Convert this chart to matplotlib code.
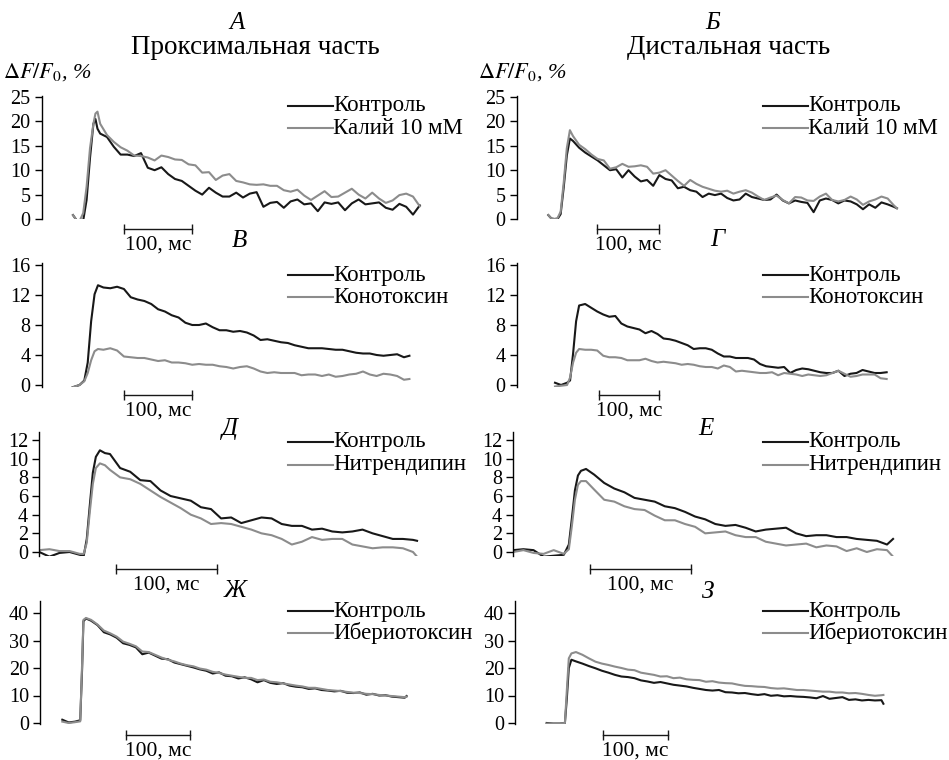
import matplotlib
matplotlib.use("Agg")
import matplotlib.pyplot as plt
from matplotlib.lines import Line2D

plt.rcParams["font.family"] = ["Liberation Serif", "DejaVu Serif"]
plt.rcParams["mathtext.fontset"] = "stix"

W, H = 949, 760
BLACK = "#181818"
GREY = "#8c8c8c"

# ---- traces: time in ms from the start of each record, dF/F0 in % ----
# А: proximal, control vs KCl 10 mM
t_a = [0, 5, 10, 15, 20, 25, 30, 33, 36, 40] + list(range(50, 511, 10))
ctrl_a = [0.8, -0.2, -0.5, -0.3, 3.9, 12.5, 19.5, 20.5, 18.5, 17.5,
          16.8, 14.8, 13.2, 13.2, 12.9, 13.5, 10.5, 10.0, 10.6, 9.2, 8.2, 7.8,
          6.8, 5.8, 5.0, 6.4, 5.4, 4.6, 4.6, 5.4, 4.4, 5.2, 5.5, 2.5, 3.3, 3.5,
          2.3, 3.6, 4.0, 3.0, 3.2, 1.6, 3.4, 3.1, 3.4, 1.8, 3.2, 4.0, 3.0, 3.2,
          3.4, 2.3, 1.9, 3.1, 2.5, 0.9, 2.8]
kcl_a = [0.8, -0.2, -0.3, 1.2, 6.6, 14.5, 19.5, 21.6, 22.0, 19.5,
         17.2, 15.8, 14.7, 14.0, 13.0, 12.9, 12.6, 12.0, 13.0, 12.7, 12.2, 12.1,
         11.2, 11.0, 9.5, 9.6, 8.0, 8.9, 9.2, 7.8, 7.5, 7.1, 7.0, 7.1, 6.8, 6.8,
         5.9, 5.6, 6.0, 4.8, 3.9, 4.8, 5.7, 4.5, 4.6, 5.4, 6.2, 5.0, 4.2, 5.4,
         4.2, 3.3, 3.8, 4.9, 5.2, 4.6, 2.6]

# Б: distal, control vs KCl 10 mM
t_b = [0, 5, 10, 15, 20, 25, 30, 35, 40] + list(range(50, 561, 10)) + [565]
ctrl_b = [0.8, 0.1, 0.0, 0.0, 1.0, 6.5, 13.0, 16.5, 16.0,
          14.6, 13.6, 12.8, 12.0, 11.0, 10.0, 10.2, 8.5, 10.0, 8.7, 7.7, 8.0,
          6.8, 9.0, 8.2, 7.9, 6.3, 6.6, 5.9, 5.6, 4.5, 5.2, 4.9, 5.2, 4.3, 3.8,
          4.0, 5.2, 4.5, 4.2, 3.9, 4.0, 5.0, 3.8, 3.2, 3.8, 3.5, 3.3, 1.4, 3.8,
          4.2, 3.9, 3.2, 3.8, 3.6, 3.0, 2.0, 3.0, 2.3, 3.4, 3.0, 2.5, 2.2]
kcl_b = [0.8, 0.1, 0.0, 0.2, 1.5, 7.5, 14.5, 18.2, 17.0,
         15.2, 14.3, 13.2, 12.3, 12.0, 10.3, 10.6, 11.3, 10.7, 10.8, 11.0, 10.7,
         9.3, 9.5, 10.0, 8.9, 7.8, 6.8, 8.0, 7.2, 6.6, 6.2, 5.8, 5.6, 5.8, 5.2,
         5.6, 5.9, 5.4, 4.6, 3.9, 4.4, 4.8, 3.9, 3.2, 4.5, 4.4, 3.8, 3.7, 4.6,
         5.2, 3.9, 3.6, 3.9, 4.6, 4.0, 2.9, 3.6, 4.0, 4.6, 4.2, 2.8, 2.2]

# В: proximal, control vs conotoxin
t_v = [0, 10, 17, 22, 27, 32, 37] + list(range(45, 486, 10)) + [493]
ctrl_v = [-0.3, 0.0, 0.6, 3.0, 8.5, 12.1, 13.3,
          13.0, 12.9, 13.1, 12.8, 11.7, 11.4, 11.2, 10.8, 10.1, 9.8, 9.3, 9.0,
          8.3, 8.0, 8.0, 8.2, 7.7, 7.3, 7.3, 7.1, 7.2, 7.0, 6.6, 6.0, 6.1, 5.9,
          5.7, 5.6, 5.3, 5.1, 4.9, 4.9, 4.9, 4.8, 4.7, 4.7, 4.5, 4.3, 4.2, 4.2,
          4.0, 3.9, 4.0, 4.1, 3.7, 3.9]
cono_v = [-0.3, 0.0, 0.5, 1.6, 3.3, 4.5, 4.8,
          4.7, 4.9, 4.6, 3.8, 3.7, 3.6, 3.6, 3.4, 3.2, 3.3, 3.0, 3.0, 2.9, 2.7,
          2.8, 2.7, 2.7, 2.5, 2.4, 2.2, 2.4, 2.5, 2.2, 1.8, 1.6, 1.7, 1.6, 1.6,
          1.6, 1.3, 1.4, 1.4, 1.2, 1.4, 1.1, 1.2, 1.4, 1.5, 1.8, 1.4, 1.2, 1.5,
          1.4, 1.2, 0.7, 0.8]

# Г: distal, control vs conotoxin
t_g = [0, 10, 20, 25, 30, 35, 40] + list(range(50, 551, 10))
ctrl_g = [0.3, 0.0, 0.3, 0.6, 4.2, 8.5, 10.6,
          10.8, 10.3, 9.8, 9.4, 9.1, 9.2, 8.2, 7.8, 7.6, 7.4, 6.9, 7.2, 6.8,
          6.2, 6.1, 5.9, 5.6, 5.3, 4.8, 4.9, 4.9, 4.7, 4.2, 3.8, 3.8, 3.6, 3.6,
          3.6, 3.4, 2.8, 2.5, 2.4, 2.3, 2.4, 1.6, 2.0, 2.2, 2.1, 1.9, 1.7, 1.6,
          1.6, 1.9, 1.2, 1.5, 1.6, 2.0, 1.8, 1.6, 1.6, 1.7]
cono_g = [-0.2, -0.1, 0.0, 1.0, 3.0, 4.3, 4.8,
          4.7, 4.7, 4.6, 3.9, 3.7, 3.7, 3.6, 3.3, 3.3, 3.3, 3.5, 3.2, 3.0, 3.1,
          3.0, 2.9, 2.7, 2.8, 2.7, 2.5, 2.4, 2.4, 2.2, 2.6, 2.4, 1.8, 1.9, 1.8,
          1.7, 1.6, 1.6, 1.7, 1.3, 1.6, 1.5, 1.4, 1.2, 1.4, 1.3, 1.2, 1.3, 1.6,
          1.9, 1.5, 1.1, 1.2, 1.4, 1.4, 1.4, 0.9, 0.8]

# Д: proximal, control vs nitrendipine
t_d = [0, 10, 20, 30, 40, 44, 47, 50, 53, 56, 60, 65, 70] + list(range(80, 371, 10)) + [374]
ctrl_d = [0.0, -0.5, -0.1, 0.0, -0.3, -0.4, 1.4, 5.0, 8.5, 10.2, 10.9, 10.6, 10.5,
          9.0, 8.6, 7.7, 7.6, 6.6, 6.0, 5.75, 5.5, 4.8, 4.6, 3.6, 3.7, 3.1, 3.4,
          3.7, 3.6, 3.0, 2.8, 2.8, 2.4, 2.5, 2.2, 2.1, 2.2, 2.4, 2.0, 1.7, 1.4,
          1.4, 1.3, 1.2]
nitr_d = [0.2, 0.3, 0.1, 0.1, -0.2, -0.2, 1.0, 4.3, 7.3, 9.0, 9.5, 9.3, 8.8,
          8.0, 7.8, 7.3, 6.6, 5.9, 5.3, 4.7, 4.0, 3.6, 3.0, 3.1, 3.0, 2.7, 2.4,
          2.0, 1.8, 1.4, 0.8, 1.1, 1.6, 1.3, 1.4, 1.4, 0.8, 0.6, 0.4, 0.5, 0.5,
          0.4, 0.0, -0.5]

# Е: distal, control vs nitrendipine
t_e = [0, 10, 20, 30, 40, 50, 55, 58, 61, 64, 67, 72] + list(range(80, 371, 10)) + [376]
ctrl_e = [0.2, 0.3, 0.2, -0.5, -0.4, -0.3, 0.8, 3.6, 6.6, 8.2, 8.7, 8.9,
          8.3, 7.4, 6.8, 6.4, 5.8, 5.6, 5.4, 4.9, 4.7, 4.3, 3.8, 3.5, 3.0, 2.8,
          2.9, 2.6, 2.2, 2.4, 2.5, 2.6, 2.0, 1.7, 1.8, 1.8, 1.6, 1.6, 1.4, 1.3,
          1.2, 0.8, 1.4]
nitr_e = [0.0, 0.2, -0.1, -0.2, 0.2, -0.2, 0.3, 2.8, 5.6, 7.2, 7.6, 7.6,
          6.7, 5.6, 5.4, 4.9, 4.6, 4.5, 3.9, 3.4, 3.4, 3.0, 2.7, 2.0, 2.1, 2.2,
          1.8, 1.6, 1.6, 1.1, 0.9, 0.7, 0.8, 0.9, 0.5, 0.7, 0.6, 0.1, 0.4, 0.0,
          0.3, 0.2, -0.5]

# Ж: proximal, control vs iberiotoxin
t_zh = [0, 10, 20, 28, 31, 33, 37] + list(range(45, 536, 10)) + [538]
ctrl_zh = [1.2, 0.2, 0.5, 1.0, 20.0, 37.0, 38.0,
           37.2, 35.6, 33.0, 32.2, 31.0, 29.0, 28.4, 27.5, 25.0, 25.6, 24.5,
           23.4, 23.2, 22.0, 21.4, 20.8, 20.2, 19.5, 19.0, 18.0, 18.4, 17.2,
           17.0, 16.2, 16.6, 15.9, 14.8, 15.6, 14.6, 14.2, 14.5, 13.6, 13.2,
           13.0, 12.4, 12.6, 12.0, 11.8, 11.5, 11.7, 11.0, 10.9, 11.1, 10.3,
           10.6, 10.0, 10.1, 9.6, 9.4, 9.2, 9.8]
ibtx_zh = [0.5, 0.0, 0.3, 0.6, 22.0, 37.5, 38.2,
           37.5, 35.8, 33.6, 32.6, 31.4, 29.6, 28.8, 27.9, 26.0, 25.8, 24.8,
           23.8, 23.0, 22.4, 21.6, 21.0, 20.6, 19.8, 19.4, 18.6, 18.2, 17.6,
           17.2, 16.8, 16.4, 16.4, 15.6, 15.8, 15.0, 14.8, 14.4, 14.0, 13.6,
           13.3, 12.8, 12.8, 12.4, 12.0, 11.8, 11.6, 11.3, 11.0, 10.9, 10.6,
           10.5, 10.2, 10.0, 9.8, 9.6, 9.4, 9.6]

# З: distal, control vs iberiotoxin
t_z = [0, 10, 20, 28, 31, 34, 38] + list(range(45, 516, 10)) + [518]
ctrl_z = [0.0, -0.2, -0.2, 0.0, 9.0, 20.0, 23.0,
          22.4, 21.6, 20.7, 19.9, 19.0, 18.3, 17.5, 16.9, 16.7, 16.3, 15.5,
          15.1, 14.6, 14.9, 14.4, 13.9, 13.6, 13.3, 12.8, 12.4, 12.0, 11.8,
          12.0, 11.2, 11.1, 10.8, 10.9, 10.5, 10.2, 10.5, 9.9, 10.1, 9.7, 9.8,
          9.6, 9.5, 9.3, 9.0, 9.8, 8.8, 9.1, 9.4, 8.4, 8.6, 8.2, 8.4, 8.2, 8.3,
          7.0]
ibtx_z = [-0.2, -0.2, -0.2, 0.0, 12.0, 23.5, 25.3,
          25.8, 24.8, 23.5, 22.3, 21.6, 21.1, 20.5, 20.0, 19.4, 19.2, 18.3,
          17.9, 17.5, 16.9, 17.0, 16.3, 16.5, 15.9, 15.7, 15.6, 15.0, 15.2,
          14.7, 14.5, 14.4, 13.9, 13.5, 13.4, 13.2, 13.1, 12.7, 12.5, 12.6,
          12.3, 12.0, 12.0, 11.8, 11.6, 11.4, 11.4, 11.1, 11.1, 10.8, 10.9,
          10.6, 10.2, 9.9, 10.1, 10.2]

test_labels = ["Калий 10 мМ", "Конотоксин", "Нитрендипин", "Ибериотоксин"]
letters = ["А", "Б", "В", "Г", "Д", "Е", "Ж", "З"]

# (row, col, time, control, test)
panels = [
    (0, 0, t_a, ctrl_a, kcl_a), (0, 1, t_b, ctrl_b, kcl_b),
    (1, 0, t_v, ctrl_v, cono_v), (1, 1, t_g, ctrl_g, cono_g),
    (2, 0, t_d, ctrl_d, nitr_d), (2, 1, t_e, ctrl_e, nitr_e),
    (3, 0, t_zh, ctrl_zh, ibtx_zh), (3, 1, t_z, ctrl_z, ibtx_z),
]

# ---- layout (pixels) ----
# per row: ylim, yticks, y pixel of 0, pixels per unit, scale-bar y (data)
rows = [
    ((0, 25.3), range(0, 26, 5), 219, 4.88, -2.1),
    ((-0.3, 16.3), range(0, 17, 4), 385, 7.5, -1.35),
    ((-0.45, 12.85), range(0, 13, 2), 552, 9.33, -1.8),
    ((-0.5, 44.4), range(0, 41, 10), 723, 2.75, -4.3),
]
# per panel: spine x, trace start x, px per ms, scale-bar start (ms)
horiz = [
    (41.7, 73.0, 0.68, 75), (516.7, 548.3, 0.617, 79),
    (41.7, 72.7, 0.683, 75), (516.7, 555.0, 0.603, 73),
    (39.3, 39.3, 1.01, 76), (513.3, 513.3, 1.01, 76),
    (40.0, 62.3, 0.64, 99.5), (515.0, 546.7, 0.65, 86.6),
]
legend_y = [(106, 128), (275, 297), (442, 465), (611, 633)]
letter_xy = [(237, 23), (713, 23), (239, 241), (717, 240),
             (230, 429), (706, 429), (235, 591), (708, 592)]
AX_W = 400


def fx(px):
    return px / W


def fy(py):
    return 1 - py / H


fig = plt.figure(figsize=(W / 100, H / 100), dpi=100)

for i, (row, col, t, ctrl, test) in enumerate(panels):
    ylim, ticks, y0, ppu, bar_y = rows[row]
    spine, start, ppm, bar_t = horiz[i]
    bottom_px = y0 - ylim[0] * ppu
    top_px = y0 - ylim[1] * ppu
    ax = fig.add_axes([fx(spine), fy(bottom_px), AX_W / W, (bottom_px - top_px) / H])
    ax.patch.set_visible(False)
    x0 = -(start - spine) / ppm
    ax.set_xlim(x0, x0 + AX_W / ppm)
    ax.set_ylim(ylim)

    ax.plot(t, ctrl, color=BLACK, lw=1.5, solid_joinstyle="round")
    ax.plot(t, test, color=GREY, lw=1.5, solid_joinstyle="round")

    for side in ["top", "right", "bottom"]:
        ax.spines[side].set_visible(False)
    ax.spines["left"].set_linewidth(1.0)
    ax.set_xticks([])
    ax.set_yticks(list(ticks))
    ax.tick_params(axis="y", length=5, width=1, pad=3, labelsize=14.5)

    # 100 ms scale bar
    ax.plot([bar_t, bar_t + 100], [bar_y, bar_y], color=BLACK, lw=1.0, clip_on=False)
    ax.plot([bar_t, bar_t + 100], [bar_y, bar_y], ls="none", marker="|", ms=7,
            mew=1.0, color=BLACK, clip_on=False)
    ax.annotate("100, мс", xy=(bar_t + 50, bar_y), xytext=(0, -16),
                textcoords="offset pixels", ha="center", va="center", fontsize=15.5,
                annotation_clip=False)

    # legend
    dx = 475 * col
    for y, lab, c in zip(legend_y[row], ["Контроль", test_labels[row]], [BLACK, GREY]):
        fig.add_artist(Line2D([fx(288 + dx), fx(333 + dx)], [fy(y), fy(y)], color=c, lw=1.5))
        fig.text(fx(333 + dx), fy(y), lab, ha="left", va="center", fontsize=16.5)

    lx, ly = letter_xy[i]
    fig.text(fx(lx), fy(ly), letters[i], ha="center", va="center", fontsize=18,
             style="italic")

fig.text(fx(255), fy(47), "Проксимальная часть", ha="center", va="center", fontsize=19.5)
fig.text(fx(729), fy(47), "Дистальная часть", ha="center", va="center", fontsize=19.5)
for x in (3, 478):
    fig.text(fx(x), fy(72), r"$\Delta F/F_0$, %", ha="left", va="center",
             fontsize=16, style="italic")

fig.savefig("out.png", dpi=100)
